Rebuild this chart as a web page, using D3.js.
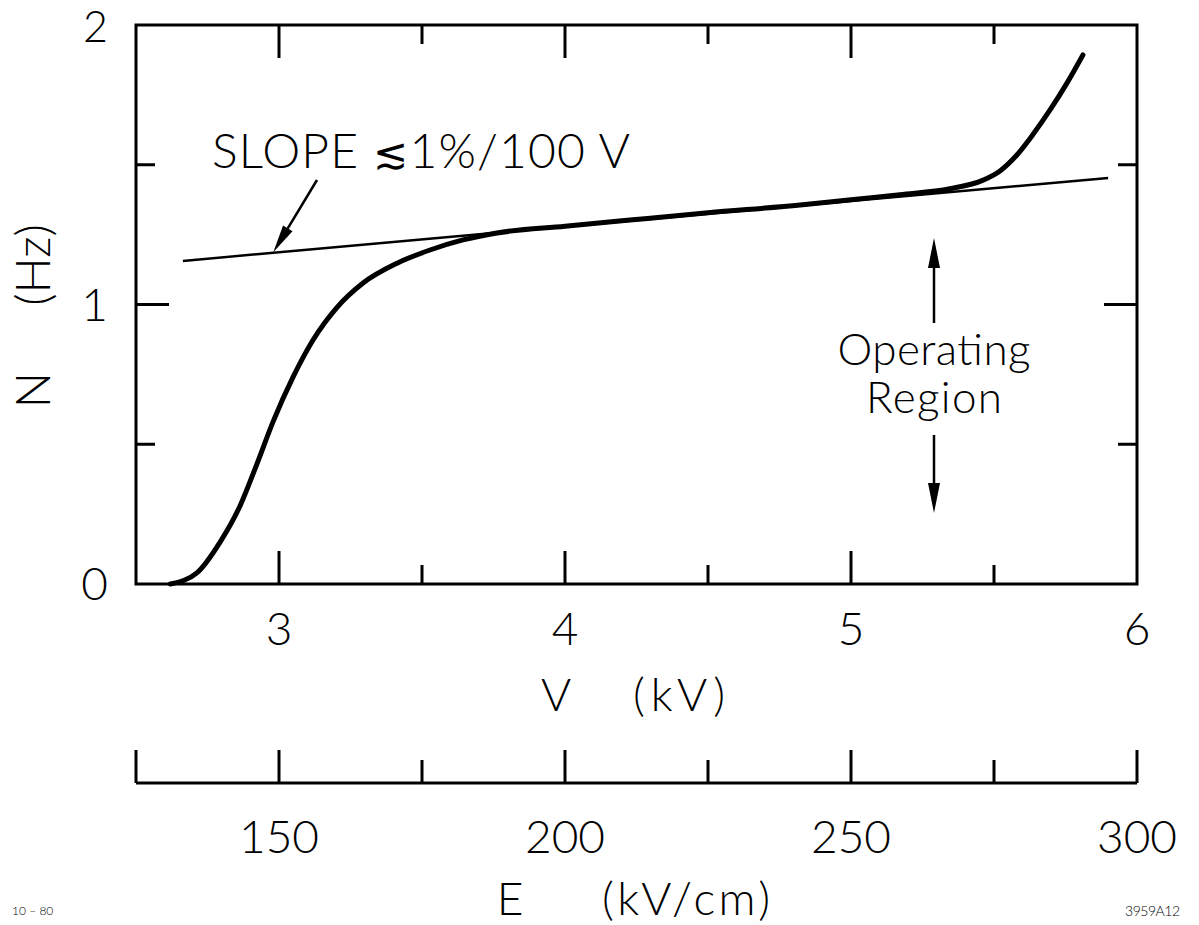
<!DOCTYPE html>
<html>
<head>
<meta charset="utf-8">
<script src="https://cdn.jsdelivr.net/npm/d3@7"></script>
<style>
  html, body { margin: 0; padding: 0; background: #fff; }
  svg { display: block; }
  text { font-family: Lato, Roboto, "Open Sans", sans-serif; font-weight: 300; fill: #000; }
</style>
</head>
<body>
<svg id="chart" width="1199" height="925"></svg>
<script>
// Counting rate N versus applied voltage V (with the equivalent field E)
const curveV = [2.62, 2.713, 2.794, 2.864, 2.923, 2.979, 3.049, 3.119, 3.203, 3.294, 3.413, 3.528, 3.643, 3.762, 4.0, 4.227, 4.5, 4.822, 5.0, 5.171, 5.346, 5.462, 5.521, 5.58, 5.636, 5.696, 5.755, 5.811];
const curveN = [0.0, 0.04, 0.15, 0.28, 0.43, 0.58, 0.74, 0.873, 0.99, 1.077, 1.148, 1.195, 1.231, 1.256, 1.28, 1.302, 1.328, 1.356, 1.375, 1.393, 1.414, 1.445, 1.478, 1.535, 1.608, 1.696, 1.792, 1.893];

// Plateau fit line (slope ≲ 1%/100 V)
const fitV = [2.664, 5.899];
const fitN = [1.156, 1.453];

// Axis ticks
const vMajor = [3, 4, 5, 6];
const vMinor = [3.5, 4.5, 5.5];
const nMajor = [0, 1, 2];
const nMinor = [0.5, 1.5];
const eMajor = [125, 150, 200, 250, 300];
const eMinor = [175, 225, 275];
const eLabels = [150, 200, 250, 300];

const svg = d3.select("#chart");

const x = d3.scaleLinear().domain([2.5, 6]).range([136, 1137]);
const y = d3.scaleLinear().domain([0, 2]).range([584, 25]);
const xE = d3.scaleLinear().domain([125, 300]).range([136, 1137]);

const MAJ = 33, MIN = 19, SW = 3;

// Frame
svg.append("rect")
  .attr("x", x(2.5)).attr("y", y(2))
  .attr("width", x(6) - x(2.5)).attr("height", y(0) - y(2))
  .attr("fill", "none").attr("stroke", "#000").attr("stroke-width", SW);

// Inward ticks on all four sides
const ticksG = svg.append("g").attr("stroke", "#000").attr("stroke-width", SW);
function vTicks(vals, len) {
  vals.forEach(v => {
    ticksG.append("line").attr("x1", x(v)).attr("x2", x(v)).attr("y1", y(0)).attr("y2", y(0) - len);
    ticksG.append("line").attr("x1", x(v)).attr("x2", x(v)).attr("y1", y(2)).attr("y2", y(2) + len);
  });
}
function hTicks(vals, len) {
  vals.forEach(n => {
    ticksG.append("line").attr("x1", x(2.5)).attr("x2", x(2.5) + len).attr("y1", y(n)).attr("y2", y(n));
    ticksG.append("line").attr("x1", x(6)).attr("x2", x(6) - len).attr("y1", y(n)).attr("y2", y(n));
  });
}
vTicks(vMajor.filter(v => v < 6), MAJ);
vTicks(vMinor, MIN);
hTicks(nMajor.filter(n => n > 0 && n < 2), MAJ);
hTicks(nMinor, MIN);

// V tick labels
svg.append("g").selectAll("text").data(vMajor).join("text")
  .attr("x", d => x(d)).attr("y", 645)
  .attr("text-anchor", "middle").attr("font-size", 46)
  .text(d => d);

// N tick labels
svg.append("g").selectAll("text").data(nMajor).join("text")
  .attr("x", 108).attr("y", d => Math.max(y(d) + 16, 42))
  .attr("text-anchor", "end").attr("font-size", d => d === 2 ? 43 : 46)
  .text(d => d);

// Axis titles
svg.append("text").attr("x", 556).attr("y", 711).attr("text-anchor", "middle").attr("font-size", 46).text("V");
svg.append("text").attr("x", 633).attr("y", 711).attr("font-size", 46).attr("textLength", 92).text("(kV)");

const yTitle = svg.append("g").attr("transform", "translate(50,0)");
yTitle.append("text").attr("transform", "translate(0,390) rotate(-90)").attr("text-anchor", "middle").attr("font-size", 48).text("N");
yTitle.append("text").attr("transform", "translate(0,265) rotate(-90)").attr("text-anchor", "middle").attr("font-size", 48).text("(Hz)");

// Secondary field scale E
const eAxisY = 783;
const eG = svg.append("g").attr("stroke", "#000").attr("stroke-width", SW);
eG.append("line").attr("x1", xE(125)).attr("x2", xE(300)).attr("y1", eAxisY).attr("y2", eAxisY);
eMajor.forEach(e => eG.append("line").attr("x1", xE(e)).attr("x2", xE(e)).attr("y1", eAxisY).attr("y2", eAxisY - MAJ));
eMinor.forEach(e => eG.append("line").attr("x1", xE(e)).attr("x2", xE(e)).attr("y1", eAxisY).attr("y2", eAxisY - 23));

svg.append("g").selectAll("text").data(eLabels).join("text")
  .attr("x", d => xE(d)).attr("y", 853)
  .attr("text-anchor", "middle").attr("font-size", 46)
  .text(d => d);

svg.append("text").attr("x", 510).attr("y", 915).attr("text-anchor", "middle").attr("font-size", 46).text("E");
svg.append("text").attr("x", 602).attr("y", 915).attr("font-size", 46).attr("textLength", 168).text("(kV/cm)");

// Measured curve
const line = d3.line().x(d => x(d[0])).y(d => y(d[1])).curve(d3.curveMonotoneX);
svg.append("path")
  .datum(curveV.map((v, i) => [v, curveN[i]]))
  .attr("d", line)
  .attr("fill", "none").attr("stroke", "#000").attr("stroke-width", 5).attr("stroke-linecap", "round");

// Plateau line
svg.append("path")
  .datum(fitV.map((v, i) => [v, fitN[i]]))
  .attr("d", d3.line().x(d => x(d[0])).y(d => y(d[1])))
  .attr("fill", "none").attr("stroke", "#000").attr("stroke-width", 2.5);

// Arrow helper
function arrow(x1, y1, x2, y2, headLen, headW) {
  const dx = x2 - x1, dy = y2 - y1, L = Math.hypot(dx, dy);
  const ux = dx / L, uy = dy / L;
  const bx = x2 - ux * headLen, by = y2 - uy * headLen;
  svg.append("line").attr("x1", x1).attr("y1", y1).attr("x2", bx).attr("y2", by)
    .attr("stroke", "#000").attr("stroke-width", 2.5);
  svg.append("path")
    .attr("d", `M${x2},${y2} L${bx - uy * headW / 2},${by + ux * headW / 2} L${bx + uy * headW / 2},${by - ux * headW / 2} Z`)
    .attr("fill", "#000");
}

// Slope annotation
const slope = svg.append("text").attr("x", 212).attr("y", 168).attr("font-size", 48).attr("textLength", 418);
slope.append("tspan").text("SLOPE ");
slope.append("tspan").attr("font-family", "'DejaVu Sans', sans-serif").attr("font-weight", 200).attr("font-size", 42).text("≲");
slope.append("tspan").text("1%/100 V");
arrow(317, 180, x(2.98), y(1.187), 28, 11);

// Operating region annotation
svg.append("text").attr("x", 934).attr("y", 365).attr("text-anchor", "middle").attr("font-size", 44).attr("textLength", 193).text("Operating");
svg.append("text").attr("x", 934).attr("y", 413).attr("text-anchor", "middle").attr("font-size", 44).attr("textLength", 136).text("Region");
arrow(934, 323, 934, 238, 30, 12);
arrow(934, 435, 934, 513, 30, 12);

// Drawing references
svg.append("text").attr("x", 12).attr("y", 915).attr("font-size", 12).attr("font-weight", 700).text("10 – 80");
svg.append("text").attr("x", 1125).attr("y", 916).attr("font-size", 14).attr("font-weight", 700).attr("textLength", 55).text("3959A12");
</script>
</body>
</html>
